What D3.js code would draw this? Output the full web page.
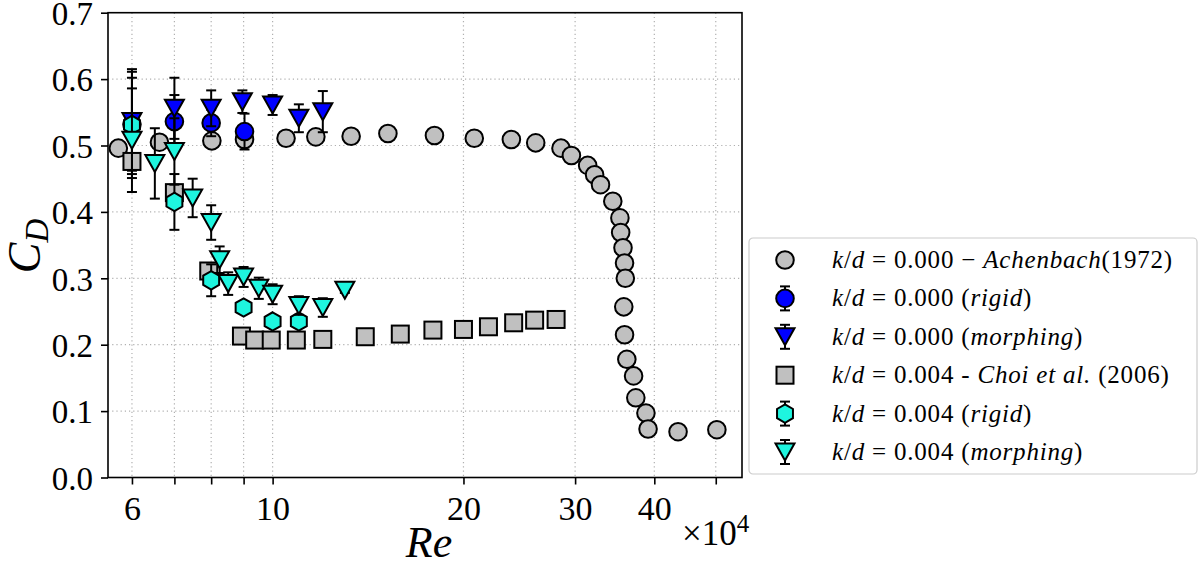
<!DOCTYPE html>
<html>
<head>
<meta charset="utf-8">
<script src="https://cdn.jsdelivr.net/npm/d3@7"></script>
<style>
  body { margin: 0; background: #fff; }
  svg { display: block; }
  text { font-family: "Liberation Serif", "DejaVu Serif", serif; fill: #000; }
</style>
</head>
<body>
<script>
// Re values are in units of 1e4
var achenbachRe = [5.71, 6.63, 8.02, 9.03, 10.5, 11.7, 13.3, 15.2, 18.0, 20.8, 23.8, 26.0, 28.5, 29.6,
    31.4, 32.2, 32.9, 34.4, 35.3, 35.4, 35.7, 35.9, 36.0, 35.8, 35.9, 36.2, 37.1, 37.4, 38.8, 39.1, 43.6, 50.2];
var achenbachCd = [0.496, 0.505, 0.507, 0.509, 0.511, 0.513, 0.514, 0.518, 0.515, 0.511, 0.509, 0.504, 0.496, 0.485,
    0.470, 0.456, 0.441, 0.416, 0.391, 0.369, 0.346, 0.323, 0.300, 0.257, 0.215, 0.178, 0.153, 0.120, 0.097, 0.073, 0.069, 0.072];

var rigid0Re = [6.0, 7.0, 8.0, 9.03];
var rigid0Cd = [0.532, 0.536, 0.534, 0.521];
var rigid0Err = [0.070, 0.040, 0.020, 0.027];

var morph0Re = [6.0, 7.0, 8.0, 8.96, 10.0, 11.0, 12.0];
var morph0Cd = [0.536, 0.556, 0.556, 0.566, 0.561, 0.541, 0.551];
var morph0Err = [0.079, 0.046, 0.027, 0.017, 0.015, 0.021, 0.031];

var choiRe = [6.0, 7.0, 7.93, 8.93, 9.37, 9.95, 10.9, 12.0, 14.0, 15.9, 17.9, 20.0, 21.9, 24.0, 25.9, 28.0];
var choiCd = [0.476, 0.429, 0.311, 0.213, 0.207, 0.207, 0.207, 0.208, 0.212, 0.216, 0.222, 0.223, 0.227, 0.233, 0.237, 0.238];

var rigid4Re = [6.0, 7.0, 8.0, 9.0, 10.0, 11.0];
var rigid4Cd = [0.531, 0.415, 0.297, 0.256, 0.235, 0.235];
var rigid4Err = [0.080, 0.042, 0.024, 0.005, 0.005, 0.005];

var morph4Re = [6.0, 6.52, 7.0, 7.48, 8.0, 8.25, 8.51, 9.0, 9.51, 10.0, 11.0, 12.0, 13.0];
var morph4Cd = [0.508, 0.473, 0.491, 0.421, 0.384, 0.328, 0.292, 0.302, 0.285, 0.276, 0.259, 0.256, 0.282];
var morph4Err = [0.078, 0.053, 0.050, 0.029, 0.026, 0.020, 0.017, 0.015, 0.016, 0.015, 0.014, 0.014, 0.004];

var xTicks = [6, 7, 8, 9, 10, 20, 30, 40, 50];
var xLabelled = [6, 10, 20, 30, 40];
var yTicks = [0, 0.1, 0.2, 0.3, 0.4, 0.5, 0.6, 0.7];

var legendLabels = [
    [["i", "k"], ["", "/"], ["i", "d"], ["", " = 0.000 \u2212 "], ["i", "Achenbach"], ["", "(1972)"]],
    [["i", "k"], ["", "/"], ["i", "d"], ["", " = 0.000 ("], ["i", "rigid"], ["", ")"]],
    [["i", "k"], ["", "/"], ["i", "d"], ["", " = 0.000 ("], ["i", "morphing"], ["", ")"]],
    [["i", "k"], ["", "/"], ["i", "d"], ["", " = 0.004 - "], ["i", "Choi et al."], ["", " (2006)"]],
    [["i", "k"], ["", "/"], ["i", "d"], ["", " = 0.004 ("], ["i", "rigid"], ["", ")"]],
    [["i", "k"], ["", "/"], ["i", "d"], ["", " = 0.004 ("], ["i", "morphing"], ["", ")"]]
];

var GRAY = "#c0c0c0", BLUE = "#0000ff", CYAN = "#1ef5df";

function zip(xs, ys, es) {
    return xs.map(function (x, i) {
        return { x: x, y: ys[i], e: es ? es[i] : 0 };
    });
}

var series = [
    { data: zip(achenbachRe, achenbachCd), shape: "circle", fill: GRAY, err: false },
    { data: zip(rigid0Re, rigid0Cd, rigid0Err), shape: "circle", fill: BLUE, err: true },
    { data: zip(morph0Re, morph0Cd, morph0Err), shape: "tri", fill: BLUE, err: true },
    { data: zip(choiRe, choiCd), shape: "square", fill: GRAY, err: false },
    { data: zip(rigid4Re, rigid4Cd, rigid4Err), shape: "hex", fill: CYAN, err: true },
    { data: zip(morph4Re, morph4Cd, morph4Err), shape: "tri", fill: CYAN, err: true }
];

var W = 1200, H = 566;
// plot area (window.top is reserved, hence the prefixes)
var pLeft = 108, pRight = 742, pTop = 12.7, pBottom = 477.5;

var svg = d3.select("body").append("svg")
    .attr("width", W)
    .attr("height", H);

var x = d3.scaleLog().domain([5.5, 55]).range([pLeft, pRight]);
var y = d3.scaleLinear().domain([0, 0.7]).range([pBottom, pTop]);

// grid
var grid = svg.append("g").attr("class", "grid");
grid.selectAll(".gx").data(xTicks).enter().append("line")
    .attr("x1", function (d) { return x(d); })
    .attr("x2", function (d) { return x(d); })
    .attr("y1", pTop).attr("y2", pBottom);
grid.selectAll(".gy").data(yTicks.slice(1, -1)).enter().append("line")
    .attr("y1", function (d) { return y(d); })
    .attr("y2", function (d) { return y(d); })
    .attr("x1", pLeft).attr("x2", pRight);
grid.selectAll("line")
    .attr("stroke", "#b0b0b0")
    .attr("stroke-width", 1.2)
    .attr("stroke-dasharray", "1.2,3");

// axes
var xAxis = d3.axisBottom(x)
    .tickValues(xTicks)
    .tickSize(7)
    .tickFormat(function (d) { return xLabelled.indexOf(d) >= 0 ? d : ""; });
var yAxis = d3.axisLeft(y)
    .tickValues(yTicks)
    .tickSize(7)
    .tickPadding(8)
    .tickFormat(d3.format(".1f"));

var gx = svg.append("g")
    .attr("transform", "translate(0," + pBottom + ")")
    .call(xAxis);
var gy = svg.append("g")
    .attr("transform", "translate(" + pLeft + ",0)")
    .call(yAxis);

[gx, gy].forEach(function (g) {
    g.select(".domain").remove();
    g.selectAll(".tick line").attr("stroke", "#000").attr("stroke-width", 1.6);
    g.selectAll(".tick text")
        .style("font-family", "'Liberation Serif', serif")
        .style("font-size", "33px")
        .attr("fill", "#000");
});
gx.selectAll(".tick text").style("font-size", "34px").attr("dy", null).attr("y", 42);
gy.selectAll(".tick text").attr("dy", "0.36em");

// spines
svg.append("rect")
    .attr("x", pLeft).attr("y", pTop)
    .attr("width", pRight - pLeft).attr("height", pBottom - pTop)
    .attr("fill", "none")
    .attr("stroke", "#000")
    .attr("stroke-width", 1.6);

// markers
function drawMarker(g, shape, fill) {
    var m;
    if (shape === "circle") {
        m = g.append("circle").attr("r", 8.8);
    } else if (shape === "square") {
        m = g.append("rect").attr("x", -8.5).attr("y", -8.5).attr("width", 17).attr("height", 17);
    } else if (shape === "tri") {
        m = g.append("path").attr("d", "M-9.5,-8.5L9.5,-8.5L0,8.5Z");
    } else {
        var pts = d3.range(6).map(function (i) {
            var a = Math.PI / 3 * i - Math.PI / 2;
            return [9.2 * Math.cos(a), 9.2 * Math.sin(a)];
        });
        m = g.append("path").attr("d", "M" + pts.join("L") + "Z");
    }
    m.attr("fill", fill)
        .attr("stroke", "#000")
        .attr("stroke-width", 2)
        .attr("stroke-linejoin", "miter");
}

var plot = svg.append("g").attr("class", "plot");
var capW = 5;

series.forEach(function (s) {
    var g = plot.append("g");
    if (s.err) {
        var eb = g.selectAll(".eb").data(s.data).enter().append("g")
            .attr("stroke", "#000")
            .attr("stroke-width", 2);
        eb.append("line")
            .attr("x1", function (d) { return x(d.x); })
            .attr("x2", function (d) { return x(d.x); })
            .attr("y1", function (d) { return y(d.y - d.e); })
            .attr("y2", function (d) { return y(d.y + d.e); });
        [-1, 1].forEach(function (sgn) {
            eb.append("line")
                .attr("x1", function (d) { return x(d.x) - capW; })
                .attr("x2", function (d) { return x(d.x) + capW; })
                .attr("y1", function (d) { return y(d.y + sgn * d.e); })
                .attr("y2", function (d) { return y(d.y + sgn * d.e); });
        });
    }
    g.selectAll(".pt").data(s.data).enter().append("g")
        .attr("transform", function (d) { return "translate(" + x(d.x) + "," + y(d.y) + ")"; })
        .each(function () { drawMarker(d3.select(this), s.shape, s.fill); });
});

// axis titles
svg.append("text")
    .attr("x", 429).attr("y", 557)
    .attr("text-anchor", "middle")
    .style("font-size", "44px")
    .style("font-style", "italic")
    .text("Re");

var cd = svg.append("text")
    .attr("transform", "translate(40,246) rotate(-90)")
    .attr("text-anchor", "middle")
    .style("font-size", "46px")
    .style("font-style", "italic");
cd.append("tspan").text("C");
cd.append("tspan").attr("dy", 8).style("font-size", "33px").text("D");

var mult = svg.append("text")
    .attr("x", 682).attr("y", 545)
    .style("font-size", "35px");
mult.append("tspan").text("\u00d710");
mult.append("tspan").attr("dy", -13).style("font-size", "25px").text("4");

// legend
var leg = svg.append("g").attr("transform", "translate(749,238)");
leg.append("rect")
    .attr("width", 448).attr("height", 236)
    .attr("rx", 4)
    .attr("fill", "#fff")
    .attr("stroke", "#cccccc")
    .attr("stroke-width", 1.2);

series.forEach(function (s, i) {
    var cy = 22 + i * 38.4;
    var row = leg.append("g").attr("transform", "translate(36," + cy + ")");
    if (s.err) {
        var eg = row.append("g").attr("stroke", "#000").attr("stroke-width", 2);
        eg.append("line").attr("x1", 0).attr("x2", 0).attr("y1", -12).attr("y2", 12);
        eg.append("line").attr("x1", -capW).attr("x2", capW).attr("y1", -12).attr("y2", -12);
        eg.append("line").attr("x1", -capW).attr("x2", capW).attr("y1", 12).attr("y2", 12);
    }
    drawMarker(row, s.shape, s.fill);
    var t = row.append("text")
        .attr("x", 47).attr("y", 8)
        .style("font-size", "25px")
        .style("letter-spacing", "0.8px");
    legendLabels[i].forEach(function (p) {
        t.append("tspan")
            .style("font-style", p[0] === "i" ? "italic" : "normal")
            .text(p[1]);
    });
});
</script>
</body>
</html>
